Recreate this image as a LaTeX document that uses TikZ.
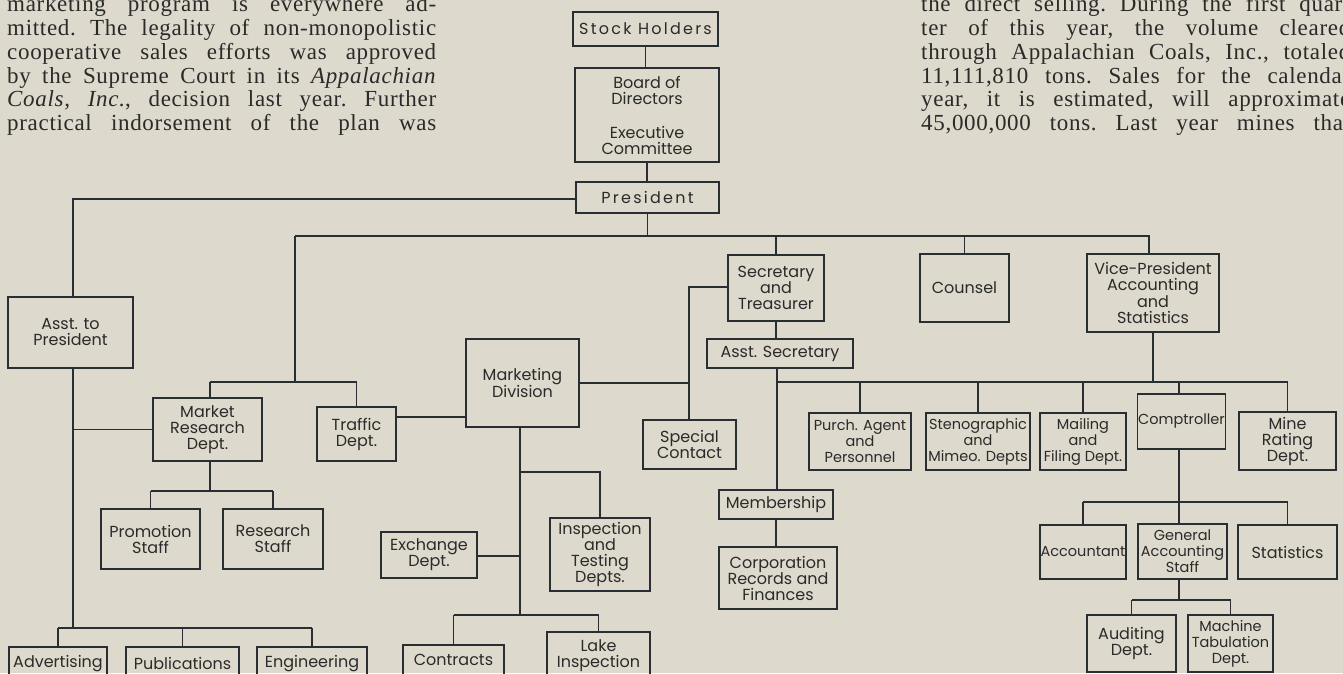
\documentclass[tikz,border=0pt]{standalone}
\usepackage{fontspec}
\setmainfont{Liberation Serif}[LetterSpace=3]
\newfontfamily\chartfont{Poppins}
\definecolor{paper}{RGB}{221,217,204}
\definecolor{ink}{RGB}{40,46,50}
\definecolor{print}{RGB}{42,42,42}
\tikzset{
  box/.style={draw=ink, line width=1.3pt, inner sep=0.5pt, align=center,
    text=print, font=\chartfont\fontsize{16}{16}\selectfont},
  small/.style={font=\chartfont\fontsize{14.5}{16}\selectfont},
  spaced/.style={font=\chartfont\fontsize{16}{16}\selectfont\addfontfeatures{LetterSpace=14}},
  conn/.style={draw=ink, line width=1.7pt},
  bodyline/.style={anchor=base west, inner sep=0pt, text=print,
    font=\fontsize{23}{24}\selectfont}
}
\newcommand\bx[7][]{\node[box, #1, minimum width={#5-#3}, minimum height={#6-#4}] (#2) at ({(#3+#5)/2},{(#4+#6)/2}) {#7};}
\newcommand\jl[1]{\makebox[429pt][s]{\frenchspacing #1}}
\begin{document}
\begin{tikzpicture}[x=1pt,y=-1pt]
\fill[paper] (0,0) rectangle (1343,673);
\useasboundingbox (0,0) rectangle (1343,673);
% body text, left column
\node[bodyline] (la) at (7,11) {\jl{marketing program is everywhere ad-}};
\node[bodyline] (lb) at (7,35) {\jl{mitted. The legality of non-monopolistic}};
\node[bodyline] (lc) at (7,59) {\jl{cooperative sales efforts was approved}};
\node[bodyline] (ld) at (7,83) {\jl{by the Supreme Court in its \textit{Appalachian}}};
\node[bodyline] (le) at (7,106) {\jl{\textit{Coals, Inc.}, decision last year. Further}};
\node[bodyline] (lf) at (7,130) {\jl{practical indorsement of the plan was}};
% body text, right column
\node[bodyline] (ra) at (921,11) {\jl{the direct selling. During the first quar-}};
\node[bodyline] (rb) at (921,35) {\jl{ter of this year, the volume cleared}};
\node[bodyline] (rc) at (921,59) {\jl{through Appalachian Coals, Inc., totaled}};
\node[bodyline] (rd) at (921,83) {\jl{11,111,810 tons. Sales for the calendar}};
\node[bodyline] (re) at (921,106) {\jl{year, it is estimated, will approximate}};
\node[bodyline] (rf) at (921,130) {\jl{45,000,000 tons. Last year mines that}};
% boxes
\bx[spaced]{sh}{573}{12}{718}{46}{Stock Holders}
\bx{bd}{575}{68}{719}{162}{Board of\\Directors\\[18pt]Executive\\Committee}
\bx[spaced]{pres}{576}{182}{719}{213}{President}
\bx{asst}{8}{297}{133}{368}{Asst. to\\President}
\bx{sec}{728}{255}{824}{321}{Secretary\\and\\Treasurer}
\bx{coun}{920}{254}{1009}{322}{Counsel}
\bx{vp}{1087}{254}{1219}{332}{Vice-President\\Accounting\\and\\Statistics}
\bx{asec}{707}{339}{853}{368}{Asst. Secretary}
\bx{mkt}{466}{339}{579}{427}{Marketing\\Division}
\bx{mr}{153}{398}{262}{461}{Market\\Research\\Dept.}
\bx{traf}{317}{407}{396}{461}{Traffic\\Dept.}
\bx{sc}{643}{420}{736}{469}{Special\\Contact}
\bx[small]{purch}{809}{413}{911}{470}{Purch. Agent\\and\\Personnel}
\bx[small]{steno}{926}{413}{1030}{470}{Stenographic\\and\\Mimeo. Depts}
\bx[small]{mail}{1040}{413}{1126}{470}{Mailing\\and\\Filing Dept.}
\bx[small]{comp}{1138}{394}{1225}{449}{Comptroller}
\bx{mine}{1239}{412}{1336}{470}{Mine\\Rating\\Dept.}
\bx{promo}{101}{509}{200}{569}{Promotion\\Staff}
\bx{rs}{223}{509}{323}{569}{Research\\Staff}
\bx{adv}{9}{647}{107}{680}{Advertising}
\bx{pub}{126}{647}{239}{680}{Publications}
\bx{eng}{257}{647}{367}{680}{Engineering}
\bx{exch}{381}{532}{477}{578}{Exchange\\Dept.}
\bx{insp}{550}{518}{650}{591}{Inspection\\and\\Testing\\Depts.}
\bx{con}{403}{645}{504}{675}{Contracts}
\bx{lake}{547}{632}{650}{680}{Lake\\Inspection}
\bx{memb}{719}{490}{833}{519}{Membership}
\bx{corp}{719}{547}{837}{609}{Corporation\\Records and\\Finances}
\bx[small]{acct}{1040}{525}{1126}{579}{Accountant}
\bx[small]{gen}{1138}{524}{1227}{579}{General\\Accounting\\Staff}
\bx{stat}{1238}{525}{1337}{579}{Statistics}
\bx{aud}{1087}{615}{1176}{672}{Auditing\\Dept.}
\bx[small]{mach}{1188}{615}{1273}{672}{Machine\\Tabulation\\Dept.}
% junction coordinates
\coordinate (pl) at (73,199);
\coordinate (b2l) at (295,236);
\coordinate (b2r) at (1149,236);
\coordinate (mrb) at (295,382);
\coordinate (ab) at (73,628);
\coordinate (prb) at (210,491);
\coordinate (tmy) at (430,417);
\coordinate (scj) at (689,287);
\coordinate (b3) at (777,382);
\coordinate (cb) at (1179,502);
\coordinate (gb) at (1179,600);
\coordinate (mb) at (520,615);
\coordinate (ib) at (520,472);
\coordinate (eb) at (520,556);
% connectors
\draw[conn] (sh.south) -- (sh.south |- bd.north);
\draw[conn] (bd.south) -- (bd.south |- pres.north);
\draw[conn] (pres.west |- pl) -- (pl) -- (pl |- asst.north);
\draw[conn] (pres.south) -- (pres.south |- b2l);
\draw[conn] (b2l) -- (b2r) -- (b2r |- vp.north);
\draw[conn] (sec.north |- b2l) -- (sec.north);
\draw[conn] (coun.north |- b2l) -- (coun.north);
\draw[conn] (b2l) -- (mrb);
\draw[conn] (prb |- mrb) -- (traf.north |- mrb);
\draw[conn] (prb |- mrb) -- (prb |- mr.north);
\draw[conn] (traf.north |- mrb) -- (traf.north);
\draw[conn] (pl |- asst.south) -- (ab);
\draw[conn] (pl |- mr.west) -- (mr.west);
\draw[conn] (adv.north |- ab) -- (eng.north |- ab);
\draw[conn] (adv.north |- ab) -- (adv.north);
\draw[conn] (pub.north |- ab) -- (pub.north);
\draw[conn] (eng.north |- ab) -- (eng.north);
\draw[conn] (prb |- mr.south) -- (prb);
\draw[conn] (promo.north |- prb) -- (rs.north |- prb);
\draw[conn] (promo.north |- prb) -- (promo.north);
\draw[conn] (rs.north |- prb) -- (rs.north);
\draw[conn] (traf.east |- tmy) -- (mkt.west |- tmy);
\draw[conn] (sec.west |- scj) -- (scj) -- (scj |- sc.north);
\draw[conn] (mkt.east) -- (scj |- mkt.east);
\draw[conn] (sec.south) -- (sec.south |- asec.north);
\draw[conn] (b3 |- asec.south) -- (b3 |- memb.north);
\draw[conn] (memb.south) -- (memb.south |- corp.north);
\draw[conn] (b3) -- (mine.north |- b3);
\draw[conn] (vp.south) -- (vp.south |- b3);
\draw[conn] (purch.north |- b3) -- (purch.north);
\draw[conn] (steno.north |- b3) -- (steno.north);
\draw[conn] (mail.north |- b3) -- (mail.north);
\draw[conn] (cb |- b3) -- (cb |- comp.north);
\draw[conn] (mine.north |- b3) -- (mine.north);
\draw[conn] (cb |- comp.south) -- (cb);
\draw[conn] (acct.north |- cb) -- (stat.north |- cb);
\draw[conn] (acct.north |- cb) -- (acct.north);
\draw[conn] (cb) -- (cb |- gen.north);
\draw[conn] (stat.north |- cb) -- (stat.north);
\draw[conn] (gb |- gen.south) -- (gb);
\draw[conn] (aud.north |- gb) -- (mach.north |- gb);
\draw[conn] (aud.north |- gb) -- (aud.north);
\draw[conn] (mach.north |- gb) -- (mach.north);
\draw[conn] (mb |- mkt.south) -- (mb);
\draw[conn] (ib) -- (insp.north |- ib) -- (insp.north);
\draw[conn] (exch.east |- eb) -- (eb);
\draw[conn] (con.north |- mb) -- (lake.north |- mb);
\draw[conn] (con.north |- mb) -- (con.north);
\draw[conn] (lake.north |- mb) -- (lake.north);
\end{tikzpicture}
\end{document}
